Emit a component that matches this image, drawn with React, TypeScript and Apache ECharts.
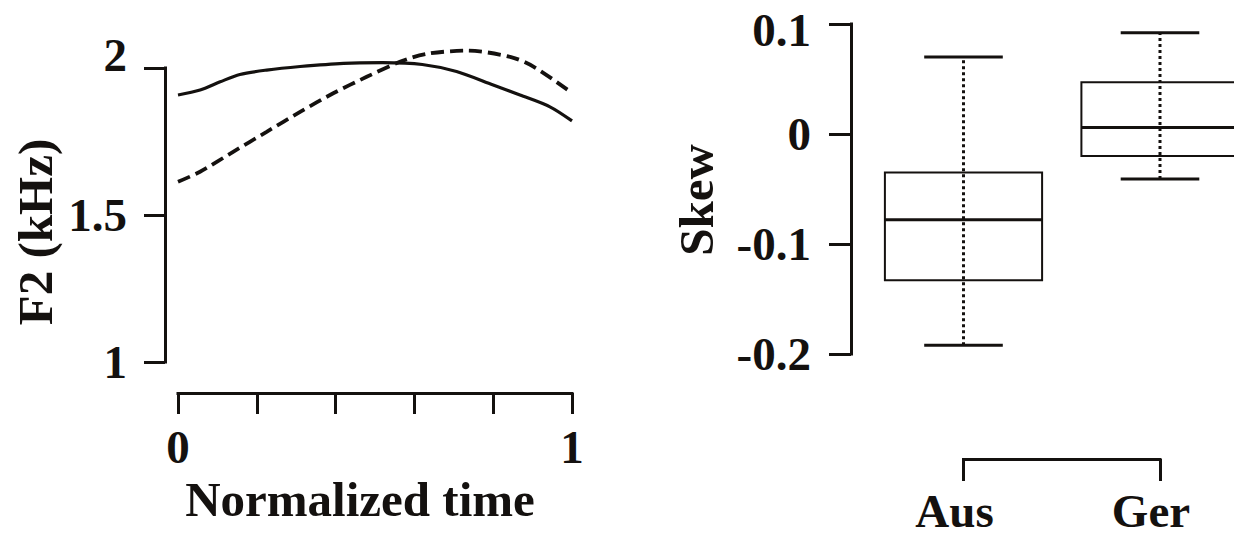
import React, { useEffect, useRef } from "react";
import * as echarts from "echarts";

// ---- Left panel: F2 trajectories over normalized time ----
const solidTime = [0.0, 0.056, 0.107, 0.157, 0.225, 0.31, 0.42, 0.52, 0.62, 0.707, 0.8, 0.868, 0.944, 1.0];
const solidF2 = [1.908, 1.925, 1.953, 1.978, 1.993, 2.005, 2.016, 2.018, 2.012, 1.988, 1.942, 1.908, 1.868, 1.82];

const dashedTime = [0.0, 0.056, 0.14, 0.225, 0.31, 0.394, 0.479, 0.563, 0.631, 0.733, 0.843, 0.902, 1.0];
const dashedF2 = [1.613, 1.647, 1.715, 1.783, 1.851, 1.914, 1.97, 2.021, 2.048, 2.059, 2.038, 2.005, 1.915];

const timeTickLabels = ["0", "1"];

// ---- Right panel: Skew boxplots ----
const boxCategories = ["Aus", "Ger"];
const boxLower = [-0.192, -0.041];
const boxQ1 = [-0.133, -0.02];
const boxMedian = [-0.078, 0.006];
const boxQ3 = [-0.035, 0.047];
const boxUpper = [0.07, 0.092];

const INK = "#14110f";
const FONT = "Liberation Serif";

export default function App() {
  const ref = useRef<HTMLDivElement>(null);

  useEffect(() => {
    if (!ref.current) return;
    const chart = echarts.init(ref.current, null, { renderer: "svg" });

    const solidData = solidTime.map((t, i) => [t, solidF2[i]]);
    const dashedData = dashedTime.map((t, i) => [t, dashedF2[i]]);
    const boxData = boxCategories.map((_, i) => [i, boxLower[i], boxQ1[i], boxMedian[i], boxQ3[i], boxUpper[i]]);

    const axisLine = { show: true, onZero: false, lineStyle: { color: INK, width: 3, cap: "square" } };
    const labelStyle = { fontSize: 47, fontWeight: "bold", color: INK, fontFamily: FONT };
    const nameStyle = { fontSize: 49, fontWeight: "bold", color: INK, fontFamily: FONT };

    const fmtNum = (v: number) => String(Number(v.toFixed(2)));

    const renderBox = (params: any, api: any) => {
      const cat = api.value(0);
      const band = api.size([1, 0])[0];
      const boxHalf = band * 0.4;
      const capHalf = band * 0.2;
      const pLow = api.coord([cat, api.value(1)]);
      const pQ1 = api.coord([cat, api.value(2)]);
      const pMed = api.coord([cat, api.value(3)]);
      const pQ3 = api.coord([cat, api.value(4)]);
      const pUp = api.coord([cat, api.value(5)]);
      const cx = pMed[0];
      return {
        type: "group",
        children: [
          {
            type: "line",
            shape: { x1: cx, y1: pLow[1], x2: cx, y2: pUp[1] },
            style: { stroke: INK, lineWidth: 3, lineDash: [3, 3] },
          },
          {
            type: "line",
            shape: { x1: cx - capHalf, y1: pUp[1], x2: cx + capHalf, y2: pUp[1] },
            style: { stroke: INK, lineWidth: 3 },
          },
          {
            type: "line",
            shape: { x1: cx - capHalf, y1: pLow[1], x2: cx + capHalf, y2: pLow[1] },
            style: { stroke: INK, lineWidth: 3 },
          },
          {
            type: "rect",
            shape: { x: cx - boxHalf, y: pQ3[1], width: boxHalf * 2, height: pQ1[1] - pQ3[1] },
            style: { fill: "none", stroke: INK, lineWidth: 2 },
          },
          {
            type: "line",
            shape: { x1: cx - boxHalf, y1: pMed[1], x2: cx + boxHalf, y2: pMed[1] },
            style: { stroke: INK, lineWidth: 3 },
          },
        ],
      };
    };

    const option: any = {
      animation: false,
      backgroundColor: "#ffffff",
      textStyle: { fontFamily: FONT },
      grid: [
        { left: 178, top: 68, width: 394, height: 294 },
        { left: 963.5, top: 24, width: 196.5, height: 330 },
      ],
      xAxis: [
        {
          gridIndex: 0,
          type: "value",
          min: 0,
          max: 1,
          interval: 0.2,
          offset: 31,
          axisLine,
          axisTick: { show: true, length: 21, lineStyle: { color: INK, width: 3 } },
          axisLabel: {
            ...labelStyle,
            margin: 30,
            showMinLabel: true,
            showMaxLabel: true,
            hideOverlap: false,
            formatter: (v: number) => {
              if (Math.abs(v) < 1e-9) return timeTickLabels[0];
              if (Math.abs(v - 1) < 1e-9) return timeTickLabels[1];
              return "";
            },
          },
          splitLine: { show: false },
          name: "Normalized time",
          nameLocation: "middle",
          nameGap: 72,
          nameTextStyle: { ...nameStyle, padding: [0, 30, 0, 0] },
        },
        {
          gridIndex: 1,
          type: "category",
          data: boxCategories,
          boundaryGap: false,
          offset: 105,
          axisLine,
          axisTick: { show: true, length: 22, lineStyle: { color: INK, width: 3 } },
          axisLabel: { ...labelStyle, margin: 28, interval: 0, hideOverlap: false, padding: [0, 18, 0, 0] },
          splitLine: { show: false },
        },
      ],
      yAxis: [
        {
          gridIndex: 0,
          type: "value",
          min: 1,
          max: 2,
          interval: 0.5,
          offset: 13,
          axisLine,
          axisTick: { show: true, length: 21, lineStyle: { color: INK, width: 3 } },
          axisLabel: {
            ...labelStyle,
            margin: 38,
            hideOverlap: false,
            formatter: (v: number) => (Math.abs(v - 2) < 1e-9 ? `{up|${fmtNum(v)}}` : fmtNum(v)),
            rich: { up: { ...labelStyle, padding: [0, 0, 26, 0] } },
          },
          splitLine: { show: false },
          name: "F2 (kHz)",
          nameLocation: "middle",
          nameRotate: 90,
          nameGap: 105,
          nameTextStyle: { ...nameStyle, padding: [0, 34, 0, 0] },
        },
        {
          gridIndex: 1,
          type: "value",
          min: -0.2,
          max: 0.1,
          interval: 0.1,
          offset: 112.5,
          axisLine,
          axisTick: { show: true, length: 22, lineStyle: { color: INK, width: 3 } },
          axisLabel: {
            ...labelStyle,
            margin: 40,
            hideOverlap: false,
            formatter: (v: number) => (v > 0.09 ? `{dn|${fmtNum(v)}}` : fmtNum(v)),
            rich: { dn: { ...labelStyle, padding: [12, 0, 0, 0] } },
          },
          splitLine: { show: false },
          name: "Skew",
          nameLocation: "middle",
          nameRotate: 90,
          nameGap: 130,
          nameTextStyle: { ...nameStyle, padding: [0, 22, 0, 0] },
        },
      ],
      series: [
        {
          name: "solid",
          type: "line",
          xAxisIndex: 0,
          yAxisIndex: 0,
          data: solidData,
          showSymbol: false,
          symbol: "none",
          smooth: 0.3,
          clip: false,
          lineStyle: { color: INK, width: 3.2 },
        },
        {
          name: "dashed",
          type: "line",
          xAxisIndex: 0,
          yAxisIndex: 0,
          data: dashedData,
          showSymbol: false,
          symbol: "none",
          smooth: 0.3,
          clip: false,
          lineStyle: { color: INK, width: 3.8, type: [13, 6] },
        },
        {
          name: "skew",
          type: "custom",
          xAxisIndex: 1,
          yAxisIndex: 1,
          data: boxData,
          renderItem: renderBox,
          clip: false,
          encode: { x: 0, y: [1, 2, 3, 4, 5] },
        },
      ],
    };

    chart.setOption(option);
    return () => {
      chart.dispose();
    };
  }, []);

  return (
    <div
      ref={ref}
      style={{ position: "fixed", left: 0, top: 0, width: 1234, height: 537, background: "#fff" }}
    />
  );
}
